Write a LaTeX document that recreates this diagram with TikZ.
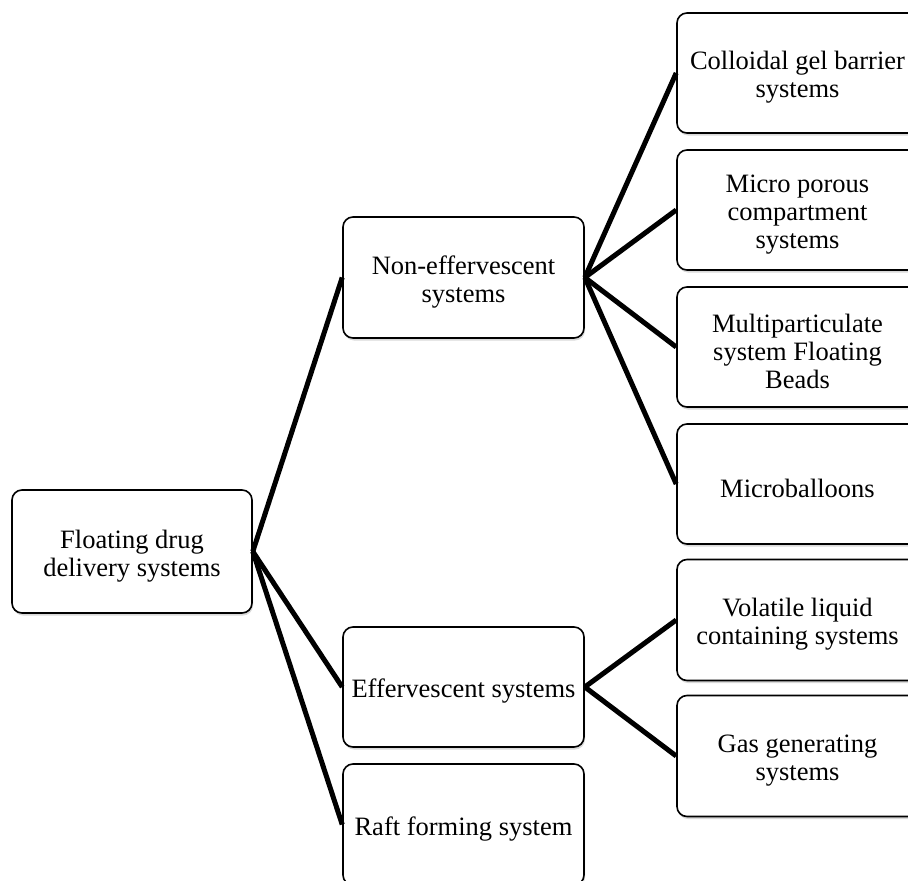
\documentclass[tikz,border=0pt]{standalone}
\usepackage{fontspec}
\setmainfont{Liberation Serif}
\usetikzlibrary{shadows}
\newcommand{\toprule}{\rule{0pt}{27pt}}
\tikzset{
  box/.style={draw=black, line width=1.6pt, rounded corners=10pt, fill=white,
    minimum width=241pt, minimum height=121pt, align=center, inner sep=2pt,
    font=\fontsize{26.5}{28}\selectfont,
    drop shadow={shadow xshift=1pt, shadow yshift=-2.5pt, opacity=0.3, fill=gray}},
  link/.style={draw=black, line width=5pt}
}
\begin{document}
\begin{tikzpicture}[x=1pt,y=-1pt]
\useasboundingbox (0,0) rectangle (908,881);
\node[box, minimum width=240pt, minimum height=123pt] (root) at (132,551.5) {\toprule Floating drug\\delivery systems};
\node[box] (non) at (463.5,277.5) {\toprule Non-effervescent\\systems};
\node[box, minimum height=120pt] (eff) at (463.5,687) {\toprule Effervescent systems};
\node[box] (raft) at (463.5,824.5) {\toprule Raft forming system};
\node[box, minimum height=120pt] (coll) at (797.5,73) {\toprule Colloidal gel barrier\\systems};
\node[box, minimum height=120pt] (micro) at (797.5,210) {\toprule Micro porous\\compartment\\systems};
\node[box, minimum height=120pt] (multi) at (797.5,347) {\toprule Multiparticulate\\system Floating\\Beads};
\node[box, minimum height=120pt] (mball) at (797.5,484) {\toprule Microballoons};
\node[box] (vol) at (797.5,620) {\toprule Volatile liquid\\containing systems};
\node[box] (gas) at (797.5,756) {\toprule Gas generating\\systems};
\draw[link] (root.east) -- (non.west);
\draw[link] (root.east) -- (eff.west);
\draw[link] (root.east) -- (raft.west);
\draw[link] (non.east) -- (coll.west);
\draw[link] (non.east) -- (micro.west);
\draw[link] (non.east) -- (multi.west);
\draw[link] (non.east) -- (mball.west);
\draw[link] (eff.east) -- (vol.west);
\draw[link] (eff.east) -- (gas.west);
\end{tikzpicture}
\end{document}
